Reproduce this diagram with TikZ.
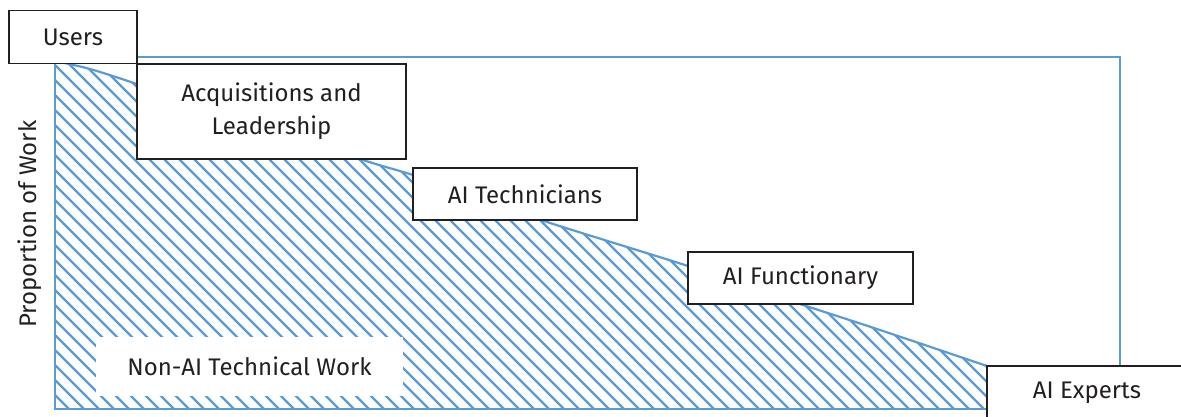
\documentclass[tikz,border=0pt]{standalone}
\usepackage{fontspec}
\setmainfont{Fira Sans}
\begin{document}
\definecolor{hatchblue}{HTML}{5B9BD5}
\definecolor{ink}{HTML}{231F20}
\begin{tikzpicture}[x=1pt,y=-1pt,
  rolebox/.style={draw=ink,line width=1.3pt,fill=white,text=ink,inner sep=0pt,
    font=\fontsize{24}{33}\selectfont,align=center},
  frameline/.style={draw=hatchblue,line width=2.2pt},
  hatchline/.style={draw=hatchblue,line width=2.2pt},
  curvestyle/.style={smooth,tension=0.5},
]
\useasboundingbox (0,0) rectangle (1181,417);

% hatched area under the work curve
\begin{scope}
  \clip (55,409) -- plot[curvestyle] coordinates {(55,61) (90,69) (137,84) (250,122) (363,160) (413,175) (480,198) (547,222) (688,266) (745,286) (803,305) (880,330) (987,366) (1010,374)} -- (1010,409) -- cycle;
  \foreach \i in {-450,-435,...,1050} {
    \draw[hatchline] (\i,40) -- ++(400,400);
  }
\end{scope}
\draw[frameline] plot[curvestyle] coordinates {(55,61) (90,69) (137,84) (250,122) (363,160) (413,175) (480,198) (547,222) (688,266) (745,286) (803,305) (880,330) (987,366) (1010,374)};

% outer frame
\draw[frameline] (55,57) rectangle (1120,409);

% labels
\node[fill=white,inner sep=0pt,minimum width=307pt,minimum height=59pt,text=ink,
  font=\fontsize{24}{28}\selectfont] (nonai) at (249.5,366.5) {Non-AI Technical Work};

\node[rolebox,minimum width=128pt,minimum height=53pt] (users) at (73,37) {Users};
\node[rolebox,minimum width=269pt,minimum height=95pt] (acq) at (271.5,111.5) {Acquisitions and\\Leadership};
\node[rolebox,minimum width=224pt,minimum height=52pt] (tech) at (525,194) {AI Technicians};
\node[rolebox,minimum width=225pt,minimum height=52pt] (func) at (800.5,278) {AI Functionary};
\node[rolebox,minimum width=200pt,minimum height=54pt] (experts) at (1087,393) {AI Experts};

\node[rotate=90,text=ink,font=\fontsize{24}{28}\selectfont] (axis) at (30,224) {Proportion of Work};
\end{tikzpicture}
\end{document}
